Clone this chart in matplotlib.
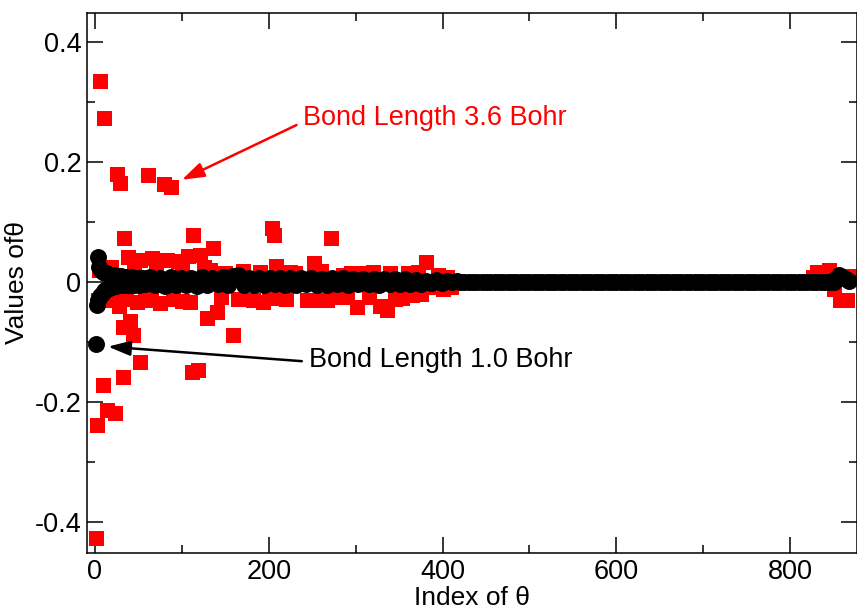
import numpy as np
import matplotlib
matplotlib.use("Agg")
import matplotlib.pyplot as plt

plt.rcParams['font.family'] = ['Liberation Sans', 'DejaVu Sans']

# red squares, bond length 3.6 Bohr (index)
red_idx = [1, 2, 6, 9, 10, 14, 23, 25, 29, 32, 32, 33, 38, 40, 44, 48, 52, 52,
           61, 66, 75, 79, 83, 88, 95, 107, 109, 112, 113, 119, 121, 129, 132,
           136, 140, 159, 182, 193, 204, 206, 208, 211, 224, 244, 252, 259,
           267, 272, 285, 301, 328, 336, 353, 381, 389]
red_val = [-0.427, -0.238, 0.335, -0.172, 0.273, -0.213, -0.218, 0.18, 0.165,
           -0.158, -0.075, 0.073, 0.042, -0.065, -0.088, -0.033, 0.037, -0.133,
           0.178, 0.04, -0.035, 0.163, 0.037, 0.158, 0.035, 0.043, -0.033, -0.15,
           0.078, -0.147, 0.045, -0.06, 0.02, 0.057, -0.05, -0.088, -0.03,
           -0.033, 0.09, 0.078, 0.027, -0.027, 0.017, -0.03, 0.032, -0.03,
           -0.03, 0.073, 0.012, -0.042, -0.04, -0.047, -0.027, 0.033, -0.008]

# red squares sitting right next to the black band
red_near_idx = [5, 18, 45, 70, 100, 125, 150, 170, 190, 230, 260, 295, 310, 320,
                340, 360, 372, 395, 405,
                4, 12, 20, 28, 36, 58, 65, 90, 100, 145, 165, 200, 220, 250, 275,
                290, 315, 345, 365, 375, 400, 410,
                826, 831, 845, 850, 858, 866, 869]
red_near_val = [0.02, 0.025, 0.02, 0.018, 0.02, 0.025, 0.015, 0.018, 0.016, 0.015,
                0.018, 0.015, 0.014, 0.016, 0.015, 0.015, 0.016, 0.012, 0.008,
                -0.03, -0.025, -0.03, -0.04, -0.028, -0.025, -0.03, -0.028, -0.032,
                -0.025, -0.028, -0.025, -0.028, -0.03, -0.025, -0.025, -0.025,
                -0.028, -0.022, -0.02, -0.012, -0.008,
                0.008, 0.017, 0.02, -0.012, -0.03, -0.03, 0.01]

# black circles, bond length 1.0 Bohr
blk_head_idx = [1, 2, 3, 4, 5, 6, 7, 8, 9, 10, 11, 12, 13, 14, 15, 16, 17, 18,
                19, 20, 22, 24, 26, 28, 30, 33, 36, 39, 42, 45, 48, 51, 54, 57, 60]
blk_head_val = [-0.103, -0.038, 0.042, -0.03, 0.025, -0.024, 0.02, -0.02, 0.017,
                -0.016, 0.015, -0.013, 0.014, -0.012, 0.013, -0.01, 0.012, -0.009,
                0.011, -0.008, 0.011, -0.007, 0.01, -0.006, 0.009, -0.006, 0.008,
                -0.005, 0.008, -0.005, 0.007, -0.005, 0.007, -0.004, 0.006]

blk_mid_idx = np.arange(63, 420, 6)
blk_mid_val = [0.008, -0.006, 0.007, -0.007, 0.008, -0.005, 0.007, -0.006, 0.006,
               -0.007, 0.008, -0.005, 0.007, -0.004, 0.008, -0.006, 0.009, 0.012,
               -0.005, 0.007, -0.006, 0.006, -0.005, 0.007, -0.004, 0.006, -0.006,
               0.006, -0.005, 0.007, -0.004, 0.006, -0.005, 0.005, -0.005, 0.006,
               -0.004, 0.006, -0.005, 0.005, -0.004, 0.005, -0.004, 0.004, -0.005,
               0.004, -0.004, 0.005, -0.003, 0.004, -0.003, 0.003, -0.003, 0.002,
               -0.002, 0.003, -0.002, 0.002, -0.001, 0.001]

blk_tail_idx = np.arange(420, 851, 5)
blk_tail_val = np.zeros(len(blk_tail_idx))

blk_end_idx = [852, 856, 860, 864, 868]
blk_end_val = [0.005, 0.012, 0.008, 0.004, 0.002]

fig = plt.figure(figsize=(8.57, 6.11), dpi=100)
ax = fig.add_axes([87/857, 58/611, 770/857, 540/611])

ax.plot(red_idx, red_val, 's', color='red', ms=10.8, mew=0)
ax.plot(red_near_idx, red_near_val, 's', color='red', ms=10.8, mew=0)

blk_x = np.concatenate([blk_head_idx, blk_mid_idx, blk_tail_idx, blk_end_idx])
blk_y = np.concatenate([blk_head_val, blk_mid_val, blk_tail_val, blk_end_val])
ax.plot(blk_x, blk_y, 'o', color='black', ms=12.2, mew=0)

ax.annotate("Bond Length 3.6 Bohr", xy=(100, 0.17), xytext=(239.5, 0.273),
            color='red', fontsize=19.5, va='center', ha='left',
            arrowprops=dict(arrowstyle='-|>,head_length=0.9,head_width=0.3',
                            mutation_scale=15, color='red', lw=1.8,
                            relpos=(0, 0.35), shrinkA=3, shrinkB=0))
ax.annotate("Bond Length 1.0 Bohr", xy=(15, -0.108), xytext=(246, -0.131),
            color='black', fontsize=19.5, va='center', ha='left',
            arrowprops=dict(arrowstyle='-|>,head_length=0.9,head_width=0.3',
                            mutation_scale=15, color='black', lw=1.8,
                            relpos=(0, 0.45), shrinkA=3, shrinkB=0))

ax.set_xlim(-9.2, 877)
ax.set_ylim(-0.452, 0.448)
ax.set_xticks([0, 200, 400, 600, 800])
ax.set_xticks([100, 300, 500, 700], minor=True)
ax.set_yticks([-0.4, -0.2, 0, 0.2, 0.4])
ax.set_yticklabels(['-0.4', '-0.2', '0', '0.2', '0.4'])
ax.set_yticks([-0.3, -0.1, 0.1, 0.3], minor=True)
ax.tick_params(which='both', direction='in', top=True, right=True,
               labelsize=19.5, width=1.1)
ax.tick_params(which='major', length=11.5, pad=4)
ax.tick_params(which='minor', length=5.8)
for s in ax.spines.values():
    s.set_linewidth(1.1)

ax.set_xlabel("Index of θ", fontsize=19, labelpad=1)
ax.set_ylabel("Values ofθ", fontsize=19, labelpad=4)

fig.savefig("out.png", dpi=100)
